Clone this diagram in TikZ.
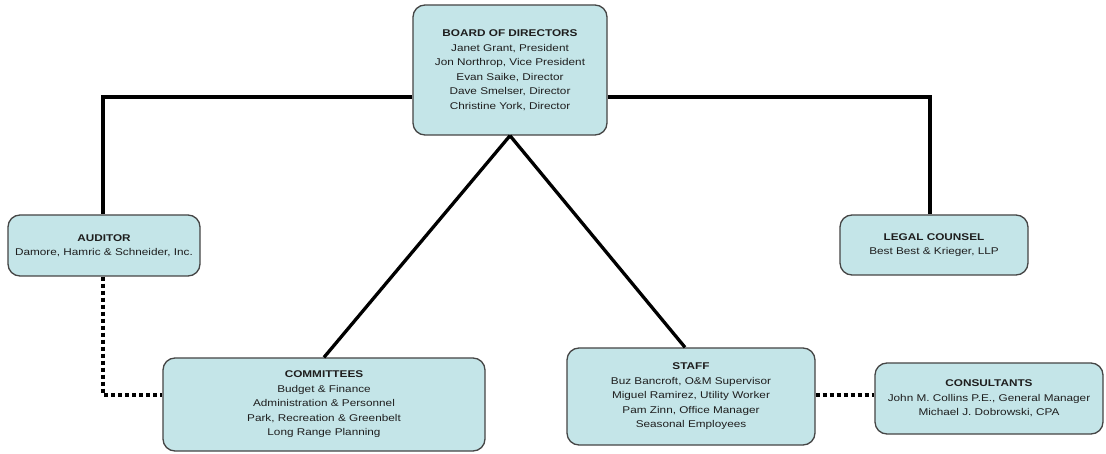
\documentclass[tikz,border=0pt]{standalone}
\usepackage{fontspec}
\setmainfont{Liberation Sans}[FakeStretch=1.2]
\usetikzlibrary{positioning,calc}
\definecolor{boxfill}{HTML}{C4E5E8}
\definecolor{boxline}{HTML}{454545}
\definecolor{txt}{HTML}{1E1E1E}
\tikzset{
  orgbox/.style={draw=boxline, line width=1.3pt, fill=boxfill, rounded corners=12pt,
    align=center, text=txt, inner sep=0pt, font=\fontsize{9.8}{14.5}\selectfont},
  solidlink/.style={line width=4.6pt, black},
  diaglink/.style={line width=3.3pt, black},
  dotlink/.style={line width=4pt, black, dash pattern=on 4pt off 3pt}
}
\begin{document}
\begin{tikzpicture}[x=1pt,y=-1pt]
\useasboundingbox[fill=white] (0,0) rectangle (1106,454);
\node[orgbox, minimum width=194pt, minimum height=130pt] (board) at (510,70)
  {\textbf{BOARD OF DIRECTORS}\\Janet Grant, President\\Jon Northrop, Vice President\\Evan Saike, Director\\Dave Smelser, Director\\Christine York, Director};
\node[orgbox, minimum width=192pt, minimum height=61pt] (auditor) at (104,245.5)
  {\textbf{AUDITOR}\\Damore, Hamric \& Schneider, Inc.};
\node[orgbox, minimum width=188pt, minimum height=60pt] (legal) at (934,245)
  {\textbf{LEGAL COUNSEL}\\Best Best \& Krieger, LLP};
\node[orgbox, minimum width=322pt, minimum height=93pt] (committees) at (324,404.5)
  {\textbf{COMMITTEES}\\Budget \& Finance\\Administration \& Personnel\\Park, Recreation \& Greenbelt\\Long Range Planning};
\node[orgbox, minimum width=248pt, minimum height=97pt] (staff) at (691,396.5)
  {\textbf{STAFF}\\Buz Bancroft, O\&M Supervisor\\Miguel Ramirez, Utility Worker\\Pam Zinn, Office Manager\\Seasonal Employees};
\node[orgbox, minimum width=228pt, minimum height=71pt] (consultants) at (989,398.5)
  {\textbf{CONSULTANTS}\\John M. Collins P.E., General Manager\\Michael J. Dobrowski, CPA};
\draw[solidlink] ([yshift=-27pt]board.west) -| ([xshift=-1pt]auditor.north);
\draw[solidlink] ([yshift=-27pt]board.east) -| ([xshift=-4pt]legal.north);
\draw[diaglink] (board.south) -- (committees.north);
\draw[diaglink] (board.south) -- ([xshift=-6pt]staff.north);
\draw[dotlink] ([xshift=-1pt]auditor.south) |- ([yshift=10pt]committees.west);
\draw[dotlink] ([yshift=1.5pt]staff.east) -- ([yshift=1.5pt]staff.east -| consultants.west);
\end{tikzpicture}
\end{document}
